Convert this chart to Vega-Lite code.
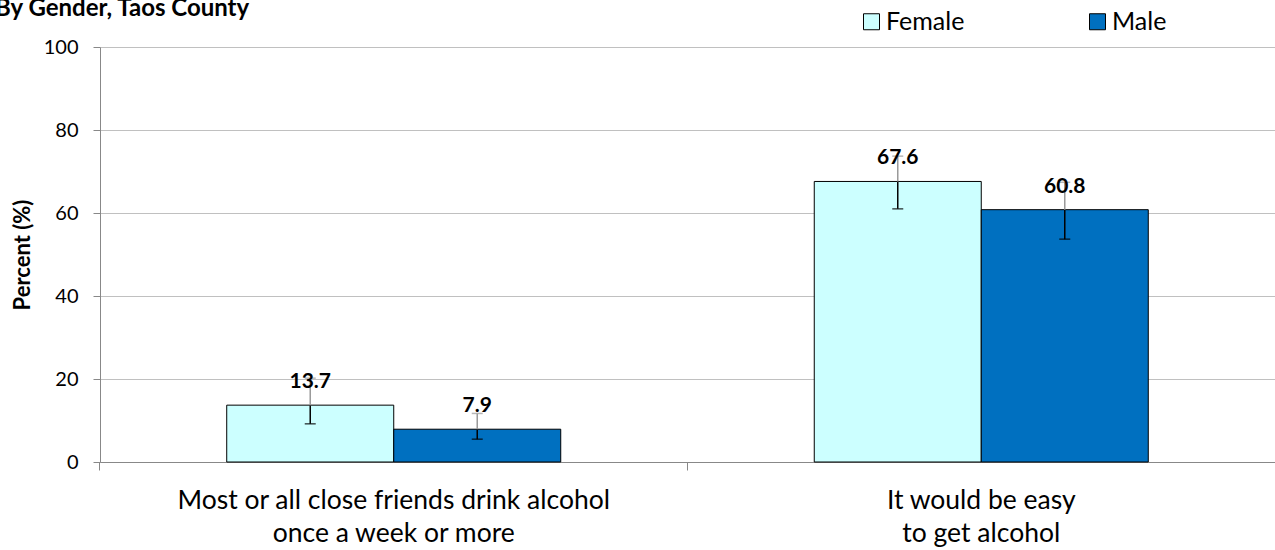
{
  "$schema": "https://vega.github.io/schema/vega-lite/v6.json",
  "autosize": "none",
  "width": 1175,
  "height": 415,
  "padding": {"left": 100, "top": 47, "right": 0, "bottom": 88},
  "background": "white",
  "config": {
    "font": "Lato",
    "view": {"stroke": null}
  },
  "title": {
    "text": "By Gender, Taos County",
    "anchor": "start",
    "frame": "group",
    "dx": -105,
    "offset": -31,
    "baseline": "alphabetic",
    "fontSize": 24,
    "fontWeight": "bold",
    "font": "Lato",
    "color": "black"
  },
  "data": {
    "values": [
      {"q": "Most or all close friends drink alcohol|once a week or more", "g": "Female", "v": 13.7, "lo": 9.2, "hi": 20.2},
      {"q": "Most or all close friends drink alcohol|once a week or more", "g": "Male", "v": 7.9, "lo": 5.5, "hi": 11.7},
      {"q": "It would be easy|to get alcohol", "g": "Female", "v": 67.6, "lo": 61.0, "hi": 73.7},
      {"q": "It would be easy|to get alcohol", "g": "Male", "v": 60.8, "lo": 53.7, "hi": 67.4}
    ]
  },
  "encoding": {
    "x": {
      "field": "q", "type": "nominal", "sort": null,
      "scale": {"paddingInner": 0.4315, "paddingOuter": 0.2157},
      "axis": {
        "title": null,
        "labelAngle": 0,
        "labelExpr": "split(datum.label, '|')",
        "labelFontSize": 26.5,
        "labelColor": "black",
        "labelLineHeight": 33,
        "labelBaseline": "top",
        "labelPadding": 17,
        "labelLimit": 1000,
        "tickSize": 8,
        "tickColor": "#888888",
        "domainColor": "#888888",
        "bandPosition": -0.3795,
        "ticks": true,
        "grid": false
      }
    },
    "xOffset": {"field": "g", "type": "nominal", "sort": ["Female", "Male"], "scale": {"paddingInner": 0, "paddingOuter": 0}}
  },
  "layer": [
    {
      "mark": {"type": "bar", "stroke": "black", "strokeWidth": 1},
      "encoding": {
        "y": {
          "field": "v", "type": "quantitative",
          "scale": {"domain": [0, 100]},
          "axis": {
            "title": "Percent (%)",
            "titleFontSize": 22,
            "titleFontWeight": "bold",
            "titleColor": "black",
            "titlePadding": 9,
            "values": [0, 20, 40, 60, 80, 100],
            "labelFontSize": 20,
            "labelColor": "black",
            "labelPadding": 15,
            "tickSize": 7,
            "tickColor": "#888888",
            "domainColor": "#888888",
            "gridColor": "#c0c0c0",
            "grid": true
          }
        },
        "fill": {
          "field": "g", "type": "nominal",
          "scale": {"domain": ["Female", "Male"], "range": ["#CCFFFF", "#0070C0"]},
          "legend": {
            "title": null,
            "orient": "none",
            "legendX": 759,
            "legendY": -38,
            "direction": "horizontal",
            "symbolType": "square",
            "symbolSize": 256,
            "symbolStrokeColor": "black",
            "symbolStrokeWidth": 1,
            "symbolOpacity": 1,
            "labelFontSize": 25,
            "labelColor": "black",
            "labelOffset": 2,
            "columnPadding": 120
          }
        }
      }
    },
    {
      "mark": {"type": "rule", "color": "black", "strokeWidth": 1.5},
      "encoding": {"y": {"field": "lo", "type": "quantitative"}, "y2": {"field": "v"}}
    },
    {
      "mark": {"type": "rule", "color": "#999999", "strokeWidth": 1.5},
      "encoding": {"y": {"field": "v", "type": "quantitative"}, "y2": {"field": "hi"}}
    },
    {
      "mark": {"type": "tick", "color": "black", "thickness": 1.5, "size": 11},
      "encoding": {"y": {"field": "lo", "type": "quantitative"}}
    },
    {
      "mark": {"type": "tick", "color": "#999999", "thickness": 1.5, "size": 11},
      "encoding": {"y": {"field": "hi", "type": "quantitative"}}
    },
    {
      "mark": {"type": "text", "fontSize": 21, "fontWeight": "bold", "color": "black", "baseline": "alphabetic", "dy": -17},
      "encoding": {
        "y": {"field": "v", "type": "quantitative"},
        "text": {"field": "v", "type": "quantitative", "format": ".1f"}
      }
    }
  ]
}
